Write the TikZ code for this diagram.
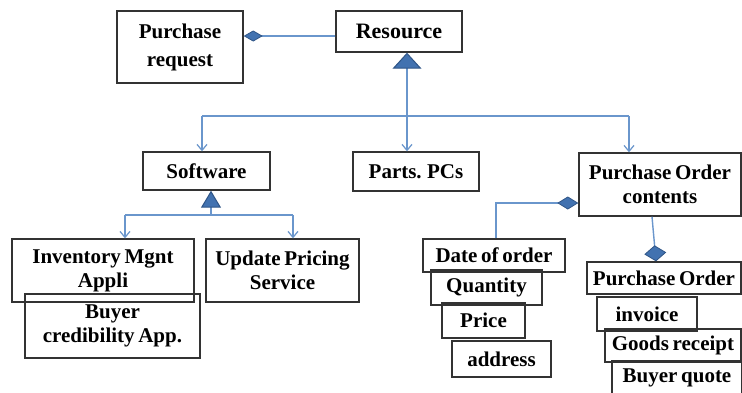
\documentclass[tikz,border=0pt]{standalone}
\usepackage{fontspec}
\setmainfont[WordSpace=0.7]{Liberation Serif}
\usetikzlibrary{arrows.meta}
\definecolor{boxc}{HTML}{333333}
\definecolor{linkc}{HTML}{6A96CC}
\definecolor{tipfill}{HTML}{4272B0}
\definecolor{tipdraw}{HTML}{2F5587}
\tikzset{
  box/.style={draw=boxc, line width=1.4pt, inner sep=0pt, align=center,
    font=\fontsize{21}{24}\selectfont\bfseries},
  link/.style={draw=linkc, line width=1.4pt},
  arr/.style={link, -{Straight Barb[length=6pt,width=10pt,line width=1.2pt]}},
  genbig/.style={link, -{Triangle[length=16pt,width=29pt,color=tipdraw,fill=tipfill,line width=1pt]}},
  gensmall/.style={link, -{Triangle[length=17pt,width=20pt,color=tipdraw,fill=tipfill,line width=1pt]}},
  compA/.style={link, -{Diamond[length=19pt,width=11pt,color=tipdraw,fill=tipfill,line width=0.8pt]}},
  compB/.style={link, -{Diamond[length=21pt,width=13pt,color=tipdraw,fill=tipfill,line width=0.8pt]}},
  compC/.style={link, -{Diamond[length=16pt,width=22pt,color=tipdraw,fill=tipfill,line width=0.8pt]}},
}
\begin{document}
\begin{tikzpicture}[x=1pt,y=-1pt]
\useasboundingbox[fill=white] (0,0) rectangle (742,392);
% boxes
\node[box, minimum width=126pt, minimum height=72pt, font=\fontsize{21}{28}\selectfont\bfseries] (pr) at (180,47) {Purchase\\request};
\node[box, minimum width=126pt, minimum height=41pt, font=\fontsize{22}{24}\selectfont\bfseries] (res) at (399,31.5) {Resource};
\node[box, minimum width=127pt, minimum height=38pt] (sw) at (206.5,171) {Software};
\node[box, minimum width=126pt, minimum height=39pt] (parts) at (416,171.5) {Parts. PCs};
\node[box, minimum width=162pt, minimum height=63pt] (poc) at (660,184.5) {Purchase Order\\contents};
\node[box, minimum width=182pt, minimum height=63pt] (inv) at (103,270.5) {Inventory Mgnt\\Appli};
\node[box, minimum width=175pt, minimum height=64pt] (buy) at (112.5,326) {Buyer\\credibility App.};
\node[box, minimum width=153pt, minimum height=63pt] (ups) at (282.5,270.5) {Update Pricing\\Service};
\node[box, minimum width=142pt, minimum height=33pt] (date) at (494,255.5) {Date of order};
\node[box, minimum width=111pt, minimum height=35pt] (qty) at (486.5,287.5) {Quantity};
\node[box, minimum width=83pt, minimum height=35pt] (price) at (483.5,320.5) {Price};
\node[box, minimum width=99pt, minimum height=36pt] (addr) at (501.5,359) {address};
\node[box, minimum width=154pt, minimum height=32pt] (po) at (664,278) {Purchase Order};
\node[box, minimum width=100pt, minimum height=34pt] (inv2) at (647,314) {invoice};
\node[box, minimum width=136pt, minimum height=33pt] (gr) at (673,345.5) {Goods receipt};
\node[box, minimum width=130pt, minimum height=34pt] (bq) at (677,378) {Buyer quote};
% association Resource - Purchase request
\draw[compA] ([yshift=-4.5pt]res.west) -- ([yshift=-4.5pt]res.west -| pr.east);
% Resource generalisation
\coordinate (j1) at (407,116);
\coordinate (b1) at (202,116);
\coordinate (b3) at (629,116);
\draw[genbig] (j1) -- (j1 |- res.south);
\draw[link] (b1) -- (b3);
\draw[arr] (b1) -- (b1 |- sw.north);
\draw[arr] (j1) -- (j1 |- parts.north);
\draw[arr] (b3) -- (b3 |- poc.north);
% Software generalisation
\coordinate (j2) at (211,215);
\coordinate (b4) at (125,215);
\coordinate (b5) at (293,215);
\draw[gensmall] (j2) -- (j2 |- sw.south);
\draw[link] (b4) -- (b5);
\draw[arr] (b4) -- (b4 |- inv.north);
\draw[arr] (b5) -- (b5 |- ups.north);
% Purchase Order contents compositions
\draw[compB] ([xshift=2pt]date.north) |- ([yshift=-18.5pt]poc.west);
\draw[compC] ([xshift=-8pt]poc.south) -- ([xshift=-8pt]po.north);
\end{tikzpicture}
\end{document}
